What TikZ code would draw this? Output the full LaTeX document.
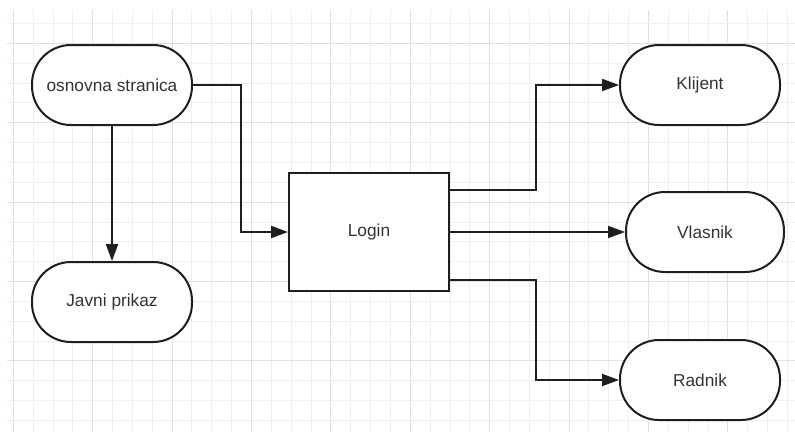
\documentclass[tikz,border=0pt]{standalone}
\usepackage{fontspec}
\setmainfont{Liberation Sans}
\usetikzlibrary{arrows.meta}
\definecolor{minorgrid}{HTML}{EFEFEF}
\definecolor{majorgrid}{HTML}{E0E0E0}
\definecolor{edgeblack}{HTML}{1E1E1E}
\definecolor{txtgray}{HTML}{333333}
\begin{document}
\begin{tikzpicture}[x=1pt,y=-1pt,
  pill/.style={draw=edgeblack, line width=2pt, fill=white, rounded corners=39pt,
    minimum width=160pt, minimum height=80pt, inner sep=0pt,
    font=\fontsize{17.3}{20}\selectfont, text=txtgray},
  box/.style={draw=edgeblack, line width=2pt, fill=white,
    minimum width=160pt, minimum height=118pt, inner sep=0pt,
    font=\fontsize{17.3}{20}\selectfont, text=txtgray},
  conn/.style={draw=edgeblack, line width=2pt, -{Triangle[length=17pt,width=12pt]}}]
\useasboundingbox (0,0) rectangle (795,432);
\fill[white] (0,0) rectangle (795,432);
% grid
\foreach \k in {0,...,39}{
  \pgfmathtruncatemacro{\m}{mod(\k,4)}
  \ifnum\m=0
    \draw[majorgrid, line width=1pt] ({13.3+19.85*\k},10) -- ({13.3+19.85*\k},432);
  \else
    \draw[minorgrid, line width=1pt] ({13.3+19.85*\k},10) -- ({13.3+19.85*\k},432);
  \fi
}
\foreach \k in {0,...,20}{
  \pgfmathtruncatemacro{\m}{mod(\k+3,4)}
  \ifnum\m=0
    \draw[majorgrid, line width=1pt] (7,{23.5+19.85*\k}) -- (795,{23.5+19.85*\k});
  \else
    \draw[minorgrid, line width=1pt] (7,{23.5+19.85*\k}) -- (795,{23.5+19.85*\k});
  \fi
}
% nodes
\node[pill] (osn) at (112,85) {osnovna stranica};
\node[pill] (javni) at (112,302) {Javni prikaz};
\node[box] (login) at (369,232) {Login};
\node[pill] (klijent) at (700,85) {Klijent};
\node[pill, minimum width=158pt] (vlasnik) at (705,232) {Vlasnik};
\node[pill] (radnik) at (700,380) {Radnik};
% connectors
\draw[conn] (osn.south) -- (javni.north);
\draw[conn] (osn.east) -- ++(48,0) |- (login.west);
\draw[conn] ([yshift=42pt]login.east) -- ++(86,0) |- (klijent.west);
\draw[conn] (login.east) -- (vlasnik.west);
\draw[conn] ([yshift=-48pt]login.east) -- ++(86,0) |- (radnik.west);
\end{tikzpicture}
\end{document}
